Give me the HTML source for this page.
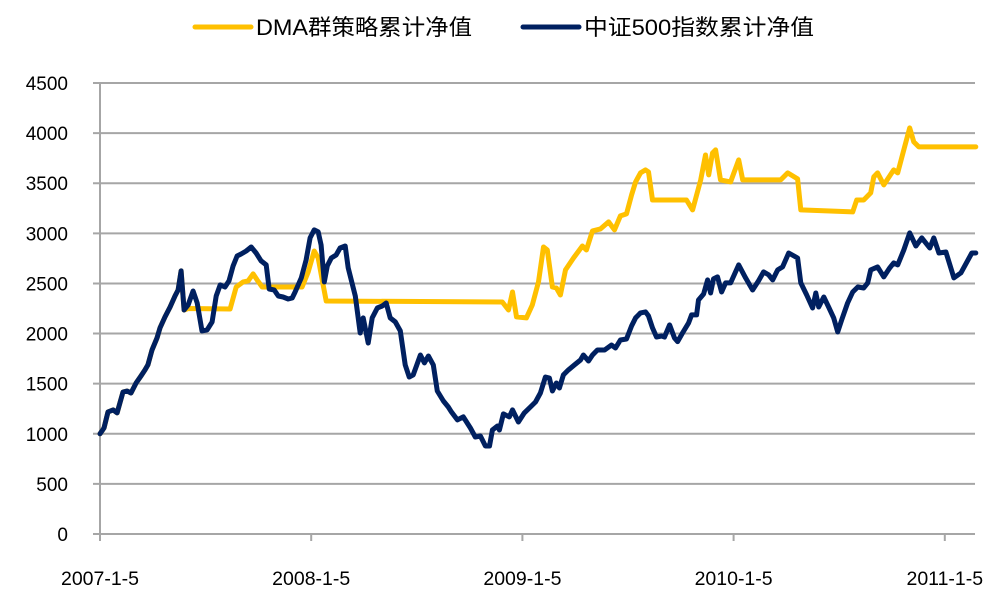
<!DOCTYPE html>
<html><head><meta charset="utf-8">
<style>
html,body{margin:0;padding:0;background:#fff;}
svg{display:block;font-family:"Liberation Sans","Noto Sans CJK SC",sans-serif;}
</style></head>
<body>
<svg id="chart" width="999" height="603" viewBox="0 0 999 603" xmlns="http://www.w3.org/2000/svg">
  <g id="legend">
    <g>
      <line x1="195" y1="27" x2="251" y2="27" stroke="#FFC000" stroke-width="5" stroke-linecap="round"/>
      <text x="256" y="35" font-size="22" textLength="216" lengthAdjust="spacingAndGlyphs" fill="#000">DMA群策略累计净值</text>
    </g>
    <g>
      <line x1="523" y1="27" x2="579" y2="27" stroke="#002060" stroke-width="5" stroke-linecap="round"/>
      <text x="584" y="35" font-size="22" textLength="230" lengthAdjust="spacingAndGlyphs" fill="#000">中证500指数累计净值</text>
    </g>
  </g>
  <g id="grid"></g>
  <g id="yaxis"></g>
  <g id="xaxis"></g>
  <g id="series"></g>
</svg>
<script>
// Data: t = years since 2007-1-5
const yTicks = [0,500,1000,1500,2000,2500,3000,3500,4000,4500];
const xTickYears = [0,1,2,3,4];
const xTickLabels = ["2007-1-5","2008-1-5","2009-1-5","2010-1-5","2011-1-5"];
const csiT = [0,.019,.038,.062,.081,.109,.128,.147,.171,.194,.213,.227,.246,.270,.284,.308,.332,.355,.370,.384,.398,.417,.441,.460,.483,.507,.531,.550,.569,.592,.611,.630,.649,.668,.692,.716,.739,.763,.787,.801,.825,.844,.867,.891,.910,.924,.953,.976,.995,1.014,1.033,1.047,1.062,1.076,1.095,1.118,1.137,1.161,1.175,1.209,1.232,1.246,1.270,1.289,1.313,1.336,1.355,1.374,1.398,1.422,1.445,1.464,1.483,1.502,1.517,1.536,1.555,1.578,1.597,1.626,1.649,1.664,1.692,1.720,1.754,1.777,1.801,1.825,1.844,1.858,1.882,1.891,1.910,1.938,1.953,1.981,2.009,2.038,2.062,2.085,2.109,2.128,2.142,2.161,2.175,2.194,2.218,2.246,2.275,2.289,2.313,2.332,2.355,2.389,2.422,2.441,2.464,2.493,2.517,2.536,2.559,2.583,2.597,2.616,2.635,2.659,2.673,2.697,2.720,2.735,2.758,2.787,2.801,2.825,2.834,2.858,2.877,2.891,2.905,2.924,2.943,2.962,2.986,3.024,3.057,3.090,3.118,3.142,3.166,3.185,3.209,3.232,3.261,3.303,3.318,3.346,3.374,3.389,3.403,3.427,3.450,3.474,3.493,3.512,3.540,3.564,3.588,3.616,3.635,3.649,3.682,3.711,3.739,3.758,3.777,3.806,3.834,3.863,3.891,3.929,3.948,3.972,4.005,4.043,4.076,4.128,4.147];
const csiV = [1000,1058,1218,1238,1208,1417,1427,1407,1507,1577,1637,1687,1836,1956,2056,2166,2265,2375,2435,2625,2235,2285,2425,2305,2026,2036,2116,2375,2485,2465,2525,2675,2774,2794,2824,2864,2804,2725,2685,2445,2435,2375,2365,2345,2355,2415,2555,2734,2954,3034,3014,2884,2515,2675,2754,2784,2854,2874,2655,2375,2006,2156,1906,2156,2255,2275,2305,2156,2116,2026,1687,1567,1587,1697,1786,1707,1776,1687,1427,1327,1267,1218,1138,1168,1058,968,978,878,878,1038,1078,1038,1198,1168,1238,1118,1208,1267,1317,1407,1567,1557,1427,1507,1457,1587,1637,1687,1736,1786,1726,1786,1836,1836,1886,1856,1936,1946,2076,2156,2206,2216,2176,2056,1966,1976,1966,2086,1956,1920,2006,2106,2186,2186,2335,2395,2535,2405,2545,2565,2415,2505,2505,2685,2555,2435,2525,2615,2585,2535,2635,2665,2804,2754,2505,2385,2255,2405,2265,2365,2265,2156,2016,2136,2305,2415,2465,2455,2505,2635,2665,2565,2655,2705,2685,2834,3004,2874,2954,2854,2954,2804,2814,2555,2605,2804,2804];
const dmaT = [0,.019,.038,.062,.081,.109,.128,.147,.171,.194,.213,.227,.246,.270,.284,.308,.332,.355,.370,.384,.398,.417,.616,.645,.678,.701,.725,.744,.768,.957,.986,1.014,1.033,1.052,1.071,1.905,1.934,1.953,1.972,2.019,2.047,2.076,2.100,2.118,2.142,2.161,2.180,2.204,2.242,2.284,2.303,2.332,2.370,2.408,2.436,2.464,2.493,2.517,2.536,2.559,2.583,2.597,2.616,2.777,2.806,2.844,2.867,2.882,2.900,2.915,2.938,2.986,3.024,3.043,3.223,3.256,3.303,3.318,3.564,3.583,3.616,3.649,3.664,3.682,3.711,3.758,3.777,3.806,3.834,3.853,3.877,4.147];
const dmaV = [1000,1058,1218,1238,1208,1417,1427,1407,1507,1577,1637,1687,1836,1956,2056,2166,2265,2375,2435,2625,2235,2250,2245,2465,2515,2525,2595,2535,2465,2465,2615,2824,2754,2535,2325,2315,2235,2415,2166,2156,2285,2515,2864,2834,2465,2455,2385,2635,2754,2874,2834,3024,3044,3114,3034,3174,3194,3383,3513,3603,3633,3613,3333,3333,3234,3533,3782,3583,3802,3832,3533,3513,3733,3533,3533,3603,3543,3234,3214,3333,3333,3403,3563,3603,3483,3633,3603,3832,4052,3912,3862,3862];

const NS="http://www.w3.org/2000/svg";
const X0=100, PX_PER_YEAR=211.2, XR=975, Y0=534, YTOP=83, VMAX=4500;
const xs = t => X0 + t*PX_PER_YEAR;
const ys = v => Y0 - v/VMAX*(Y0-YTOP);
function mk(tag, attrs, parent){const e=document.createElementNS(NS,tag);for(const k in attrs)e.setAttribute(k,attrs[k]);parent.appendChild(e);return e;}

const grid=document.getElementById('grid'), yax=document.getElementById('yaxis'), xax=document.getElementById('xaxis'), ser=document.getElementById('series');
yTicks.forEach(v=>{
  const y=ys(v);
  const l=mk('line',{x1:93,x2:XR,y1:y,y2:y,stroke:'#a6a6a6','stroke-width':2},grid);
  
  
  const t=mk('text',{x:68,y:y+7,'text-anchor':'end','font-size':19,fill:'#000'},yax);
  t.textContent=v;
  
  
});
const ya=mk('line',{x1:X0,x2:X0,y1:YTOP,y2:Y0+7,stroke:'#a6a6a6','stroke-width':2},yax);


xTickYears.forEach((yr,i)=>{
  const x=xs(yr);
  const tk=mk('line',{x1:x,x2:x,y1:Y0,y2:Y0+7,stroke:'#a6a6a6','stroke-width':2},xax);
  
  
  const t=mk('text',{x:x,y:585,'text-anchor':'middle','font-size':19.5,fill:'#000'},xax);
  t.textContent=xTickLabels[i];
  
  
});
function line(T,V,color,name){
  const d=T.map((t,i)=>(i?'L':'M')+xs(t).toFixed(1)+','+ys(V[i]).toFixed(1)).join('');
  const p=mk('path',{d:d,fill:'none',stroke:color,'stroke-width':5,'stroke-linejoin':'round','stroke-linecap':'round'},ser);
  
  
}
line(dmaT,dmaV,'#FFC000','dma-series-line');
line(csiT,csiV,'#002060','csi500-series-line');
</script>
</body></html>
